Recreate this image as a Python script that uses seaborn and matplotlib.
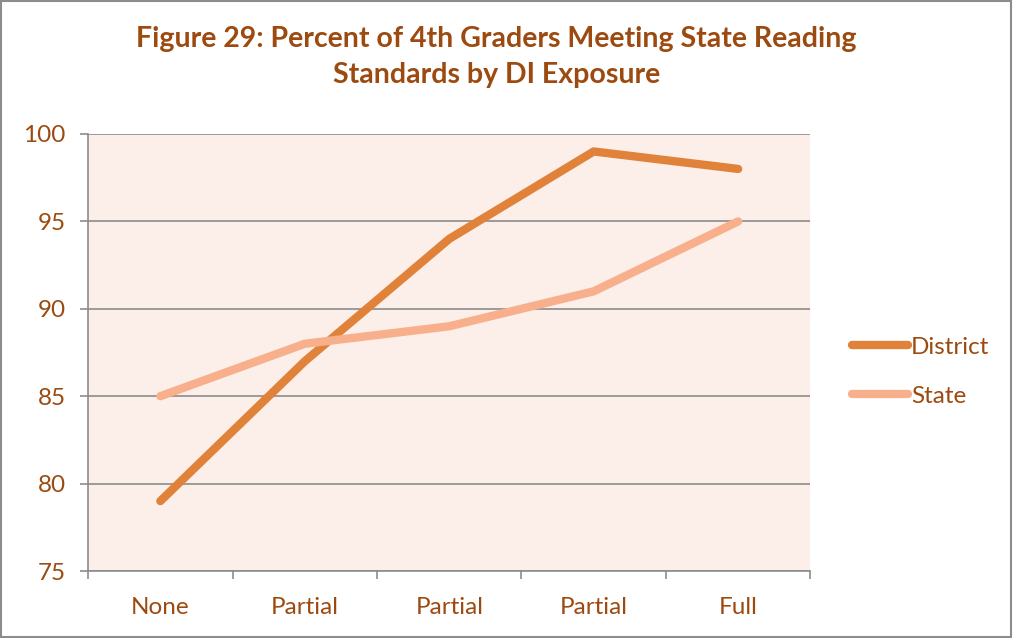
import pandas as pd
import seaborn as sns
import matplotlib.pyplot as plt
from matplotlib.patches import Rectangle

# Datos
categorias = ["None", "Partial", "Partial", "Partial", "Full"]
district = [79, 87, 94, 99, 98]
state = [85, 88, 89, 91, 95]

df = pd.DataFrame({
    "pos": list(range(len(categorias))) * 2,
    "valor": district + state,
    "serie": ["District"] * len(district) + ["State"] * len(state),
})

sns.set_style("white")
plt.rcParams["font.family"] = ["Lato", "DejaVu Sans"]

texto = "#9C4A10"
fig = plt.figure(figsize=(10.13, 6.38), dpi=100)
ax = fig.add_axes([0.087, 0.105, 0.713, 0.685])
ax.set_facecolor("#FCEEE8")

sns.lineplot(data=df, x="pos", y="valor", hue="serie",
             palette={"District": "#E0823A", "State": "#F8B08C"},
             linewidth=6, solid_capstyle="round", solid_joinstyle="round", ax=ax)

ax.set_xlim(-0.5, len(categorias) - 0.5)
ax.set_ylim(75, 100)
ax.set_yticks([75, 80, 85, 90, 95, 100])
ax.yaxis.grid(True, color="#8C8C8C", linewidth=1.2)
ax.set_axisbelow(True)
ax.set_xticks(range(len(categorias)))
ax.set_xticklabels(categorias)
ax.set_xticks([i - 0.5 for i in range(len(categorias) + 1)], minor=True)
ax.tick_params(axis="x", which="major", length=0, pad=19, labelsize=17.5, labelcolor=texto)
ax.tick_params(axis="x", which="minor", length=6, color="#8C8C8C", width=1.2, direction="out")
ax.tick_params(axis="y", length=6, color="#8C8C8C", width=1.2, direction="out",
               labelsize=17.5, labelcolor=texto, pad=10)
ax.xaxis.set_ticks_position("bottom")
ax.yaxis.set_ticks_position("left")
for lado in ["top", "right"]:
    ax.spines[lado].set_visible(False)
for lado in ["left", "bottom"]:
    ax.spines[lado].set_color("#8C8C8C")
    ax.spines[lado].set_linewidth(1.2)
ax.set_xlabel("")
ax.set_ylabel("")

leg = ax.legend(loc="center left", bbox_to_anchor=(1.028, 0.456), frameon=False,
                fontsize=17.5, handlelength=2.3, handletextpad=0.1, labelspacing=1.15)
for t in leg.get_texts():
    t.set_color(texto)

fig.text(0.49, 1 - 26 / 638, "Figure 29: Percent of 4th Graders Meeting State Reading\nStandards by DI Exposure",
         ha="center", va="top", fontsize=20.5, fontweight="bold", color=texto, linespacing=1.5)

fig.patches.append(Rectangle((0.001, 0.002), 0.997, 0.996, transform=fig.transFigure,
                             fill=False, edgecolor="#8C8C8C", linewidth=1.5))

plt.savefig("out.png", dpi=100)
